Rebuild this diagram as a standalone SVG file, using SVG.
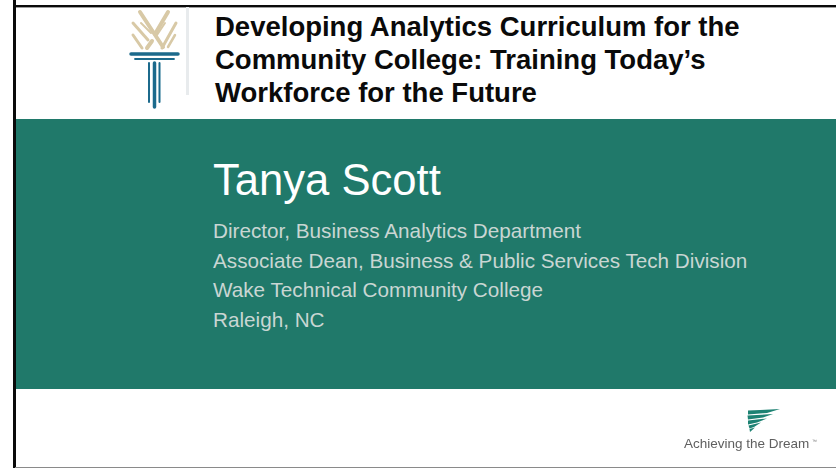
<svg xmlns="http://www.w3.org/2000/svg" width="836" height="468" viewBox="0 0 836 468">
<defs><filter id="soft" x="-10%" y="-10%" width="120%" height="120%"><feGaussianBlur stdDeviation="0.6"/></filter></defs>
<style>
.t{font-family:"Liberation Sans",Arial,sans-serif}
.h{font-size:27.500px;font-weight:bold;fill:#0a0a0a}
.s{font-size:20.700px;fill:#c9d6d3}
.g{stroke:#d8c9a6;stroke-linecap:round;fill:none}
.b{stroke:#1d6a8c;stroke-linecap:round;fill:none}
.w{fill:#1f8273}
</style>
<rect width="836" height="468" fill="#fff"/>
<rect x="15" y="119" width="821" height="270" fill="#20796a"/>
<rect x="13" y="0" width="3" height="468" fill="#0a0a0a"/>
<rect x="13" y="5" width="823" height="2.400" fill="#0a0a0a"/>
<rect x="15" y="467" width="821" height="1" fill="#8a8a8a"/>
<g id="torch-logo" filter="url(#soft)">
<rect x="186" y="7" width="3" height="88" fill="#e8ebed"/>
<path class="g" stroke-width="4" d="M140 12 L163 47"/>
<path class="g" stroke-width="4" d="M168 12 L155 34"/>
<path class="g" stroke-width="4" d="M152 41 L147 48"/>
<path class="g" stroke-width="3" d="M133 23 L148 40"/>
<path class="g" stroke-width="2" d="M141 23 L151 33"/>
<path class="g" stroke-width="3" d="M133 35 L142 48"/>
<path class="g" stroke-width="2" d="M165 23 L157 35"/>
<path class="g" stroke-width="3" d="M176 23 L162 48"/>
<path class="g" stroke-width="2.500" d="M175 35 L168 47"/>
<path class="b" stroke-width="3.500" d="M131 54 H178"/>
<path class="b" stroke-width="1.800" d="M135 59 H174"/>
<path class="b" stroke-width="2" d="M149 63 V102"/>
<path class="b" stroke-width="3.500" d="M154.500 63 V107"/>
<path class="b" stroke-width="2" d="M159.500 63 V102"/>
</g>
<g id="title" class="t h">
<text x="215" y="36">Developing Analytics Curriculum for the</text>
<text x="215" y="69">Community College: Training Today’s</text>
<text x="215" y="102">Workforce for the Future</text>
</g>
<g id="presenter" class="t">
<text x="213" y="195" font-size="43.600" fill="#fff">Tanya Scott</text>
<text class="s" x="213" y="238">Director, Business Analytics Department</text>
<text class="s" x="213" y="268">Associate Dean, Business &amp; Public Services Tech Division</text>
<text class="s" x="213" y="297">Wake Technical Community College</text>
<text class="s" x="213" y="327">Raleigh, NC</text>
</g>
<g id="atd-logo" filter="url(#soft)">
<path class="w" d="M748 410.500 L780 409 L767 413 L748 414.500Z"/>
<path class="w" d="M747.500 415.500 L773 414 L763 417.500 L748 419.500Z"/>
<path class="w" d="M748 420.500 L767 418.500 L757 422.500 L748 424.500Z"/>
<path class="w" d="M748.500 425.500 L761 422.500 L754 427 L749.500 428.500Z"/>
<path class="w" d="M749.500 429 L755 427.500 L750 432Z"/>
<text class="t" x="684" y="448" font-size="13.500" fill="#5f5f5f">Achieving the Dream</text>
<text class="t" x="812" y="443" font-size="5" fill="#777">™</text>
</g>
</svg>
